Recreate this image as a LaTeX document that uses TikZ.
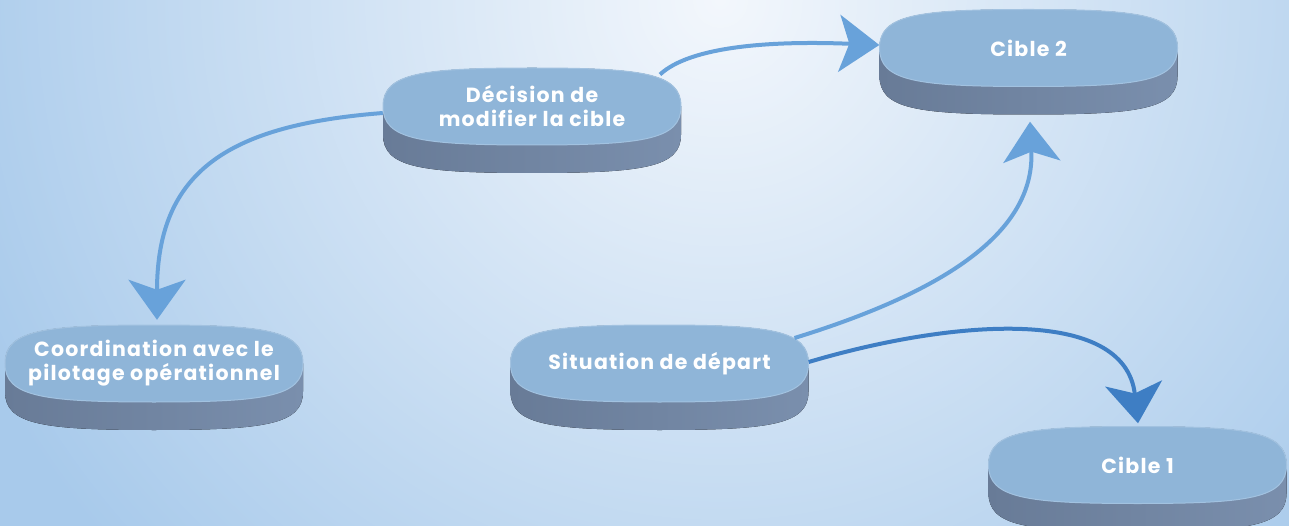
\documentclass[tikz,border=0pt]{standalone}
\usepackage{fontspec}
\setmainfont{Poppins}
\newfontfamily\pillfont[LetterSpace=6]{Poppins}
\usetikzlibrary{arrows.meta,calc}
\definecolor{bgout}{HTML}{A8CAEB}
\definecolor{bgin}{HTML}{F3F7FC}
\definecolor{face}{HTML}{8FB5D8}
\definecolor{faceedge}{HTML}{A2C2E0}
\definecolor{sideL}{HTML}{687B97}
\definecolor{sideR}{HTML}{7A8FAD}
\definecolor{arrL}{HTML}{68A2DA}
\definecolor{arrD}{HTML}{3E7EC4}
\tikzset{
  pilltext/.style={text=white, font=\pillfont\bfseries\fontsize{20.5}{24}\selectfont, align=center,
    minimum width=298pt, minimum height=77pt, inner sep=0pt},
  conn/.style={line width=4pt, -{Stealth[length=40pt,width=57pt,inset=10pt]}},
}
\newcommand\pillnode[4]{%
  \fill[left color=sideL,right color=sideR]
    ({#2-149},{#3}) .. controls ({#2-149},{#3-33}) and ({#2-112},{#3-38.5}) .. ({#2},{#3-38.5})
    .. controls ({#2+112},{#3-38.5}) and ({#2+149},{#3-33}) .. ({#2+149},{#3})
    -- ({#2+149},{#3+28})
    .. controls ({#2+149},{#3+61}) and ({#2+112},{#3+66.5}) .. ({#2},{#3+66.5})
    .. controls ({#2-112},{#3+66.5}) and ({#2-149},{#3+61}) .. ({#2-149},{#3+28}) -- cycle;
  \filldraw[fill=face, draw=faceedge, line width=1pt]
    ({#2-149},{#3}) .. controls ({#2-149},{#3-33}) and ({#2-112},{#3-38.5}) .. ({#2},{#3-38.5})
    .. controls ({#2+112},{#3-38.5}) and ({#2+149},{#3-33}) .. ({#2+149},{#3})
    .. controls ({#2+149},{#3+33}) and ({#2+112},{#3+38.5}) .. ({#2},{#3+38.5})
    .. controls ({#2-112},{#3+38.5}) and ({#2-149},{#3+33}) .. ({#2-149},{#3}) -- cycle;
  \node[pilltext] (#1) at (#2,#3) {#4};
}
\begin{document}
\begin{tikzpicture}[x=1pt,y=-1pt]
\useasboundingbox (0,0) rectangle (1289,526);
\fill[bgout] (0,0) rectangle (1289,526);
\begin{scope}
\clip (0,0) rectangle (1289,526);
\shade[inner color=bgin, outer color=bgout] (720,0) circle (820);
\end{scope}

\pillnode{dec}{532}{106.5}{Décision de\\modifier la cible}
\pillnode{c2}{1028.5}{48}{Cible 2}
\pillnode{coord}{154}{363.5}{Coordination avec le\\pilotage opérationnel}
\pillnode{sit}{659.5}{363.5}{Situation de départ}
\pillnode{c1}{1137.5}{465}{Cible 1}

\draw[conn, arrL] ($(dec.center)+(128,-32)$) .. controls ($(dec.center)+(158,-60)$) and ($(dec.center)+(238,-66)$) .. ($(c2.west)+(0,-3)$);
\draw[conn, arrL] ($(dec.west)+(0,6.5)$) .. controls (230,125) and (157,170) .. ($(coord.north)+(3,-5)$);
\draw[conn, arrL] ($(sit.center)+(135,-25.5)$) .. controls (950,290) and (1035,230) .. ($(c2.south)+(1.5,35)$);
\draw[conn, arrD] ($(sit.east)+(0,-1.5)$) .. controls (950,320) and (1125,305) .. ($(c1.north)+(0.5,-3)$);
\end{tikzpicture}
\end{document}
